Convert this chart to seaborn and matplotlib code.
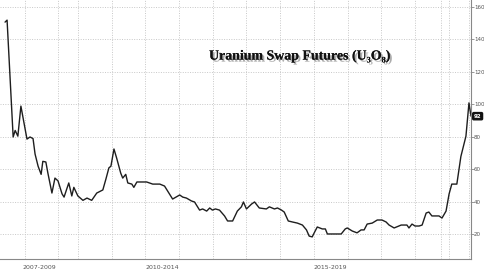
import numpy as np
import pandas as pd
import matplotlib
matplotlib.use("Agg")
import matplotlib.pyplot as plt
import matplotlib.patheffects as pe
from matplotlib import font_manager
import seaborn as sns

# ---- data ----
years = [2007.84, 2007.90, 2008.08, 2008.14, 2008.22, 2008.31, 2008.49, 2008.58, 2008.67,
         2008.73, 2008.82, 2008.91, 2008.96, 2009.05, 2009.11, 2009.23, 2009.32, 2009.41,
         2009.53, 2009.59, 2009.67, 2009.73, 2009.82, 2009.88, 2010.00, 2010.15, 2010.27,
         2010.41, 2010.56, 2010.74, 2010.83, 2010.92, 2010.98, 2011.07, 2011.15, 2011.27,
         2011.33, 2011.42, 2011.48, 2011.60, 2011.66, 2011.75, 2012.04, 2012.22, 2012.43,
         2012.57, 2012.81, 2013.02, 2013.11, 2013.22, 2013.37, 2013.46, 2013.61, 2013.70,
         2013.82, 2013.91, 2013.99, 2014.08, 2014.20, 2014.35, 2014.44, 2014.59, 2014.73,
         2014.85, 2014.91, 2015.00, 2015.15, 2015.24, 2015.38, 2015.59, 2015.68, 2015.83,
         2015.92, 2016.04, 2016.12, 2016.24, 2016.36, 2016.51, 2016.66, 2016.78, 2016.86,
         2016.95, 2017.01, 2017.10, 2017.25, 2017.34, 2017.40, 2017.81, 2017.93, 2017.99,
         2018.14, 2018.28, 2018.40, 2018.49, 2018.58, 2018.73, 2018.88, 2019.02, 2019.14,
         2019.23, 2019.38, 2019.59, 2019.76, 2019.82, 2019.91, 2020.00, 2020.12, 2020.21,
         2020.33, 2020.41, 2020.50, 2020.71, 2020.80, 2020.92, 2021.01, 2021.09, 2021.24,
         2021.36, 2021.51, 2021.60, 2021.66]
prices = [150.7, 151.9, 80.0, 84.0, 80.5, 99.0, 78.7, 80.0, 79.0,
          69.5, 62.0, 57.0, 65.0, 64.6, 57.8, 45.5, 54.7, 53.0,
          45.0, 43.0, 48.0, 51.7, 43.7, 49.0, 43.7, 41.0, 42.4,
          41.0, 45.5, 47.4, 54.0, 61.0, 62.0, 72.6, 67.0, 57.8,
          54.7, 57.0, 51.7, 51.0, 49.0, 52.3, 52.3, 51.0, 51.0,
          49.8, 41.8, 44.3, 43.0, 42.4, 40.6, 40.0, 35.0, 35.7,
          34.4, 36.3, 35.0, 35.7, 35.0, 31.4, 28.3, 28.3, 34.4,
          37.0, 40.0, 35.7, 38.7, 40.0, 36.3, 35.7, 37.0, 35.7,
          36.3, 35.0, 33.8, 28.3, 27.7, 27.0, 25.8, 22.8, 19.0,
          18.5, 21.0, 24.6, 23.4, 23.4, 20.3, 20.3, 23.4, 24.0,
          22.1, 21.0, 22.8, 22.8, 26.4, 27.0, 28.9, 28.9, 27.7,
          25.8, 24.0, 25.8, 25.8, 24.0, 26.4, 25.2, 25.2, 25.8,
          33.2, 33.8, 31.4, 31.4, 30.1, 34.4, 44.9, 51.0, 51.0,
          68.0, 80.5, 101.0, 92.8]
period_labels = ["2007-2009", "2010-2014", "2015-2019"]
period_edges = [2007.69, 2010.0, 2015.0, 2020.0]
ytick_values = [20, 40, 60, 80, 100, 120, 140, 160]
last_label = "92"
title = "Uranium Swap Futures (U\u2083O\u2088)"

df = pd.DataFrame({"year": years, "price": prices})

sns.set_style("white")

installed = {f.name for f in font_manager.fontManager.ttflist}
narrow = ["Liberation Sans Narrow", "DejaVu Sans"] if "Liberation Sans Narrow" in installed \
    else ["DejaVu Sans"]

W, H = 485, 272
fig = plt.figure(figsize=(W / 100, H / 100), dpi=100)
ax = fig.add_axes([0.0, 1 - 259 / H, 471 / W, 259 / H])

sns.lineplot(data=df, x="year", y="price", ax=ax, color="#1e1e1e", linewidth=1.0)

ax.set_xlim(2007.69, 2021.66)
ax.set_ylim(4.9, 164.3)
ax.set_xlabel("")
ax.set_ylabel("")

# spines
for s in ["left", "top"]:
    ax.spines[s].set_visible(False)
for s in ["right", "bottom"]:
    ax.spines[s].set_color("#888888")
    ax.spines[s].set_linewidth(0.8)

# y axis on right
ax.yaxis.tick_right()
ax.set_yticks(ytick_values)
ax.set_yticklabels([str(v) for v in ytick_values])
ax.tick_params(axis="y", which="major", direction="out", length=1.8, width=0.6,
               color="#888888", labelsize=4.0, labelcolor="#555555", pad=0.4)
for lab in ax.get_yticklabels():
    lab.set_family(narrow)
ax.yaxis.grid(True, linestyle=(0, (1, 1.5)), color="#c8c8c8", linewidth=0.7)

# vertical dotted gridlines
vgrid = [2008.43, 2009.41, 2010.0, 2011.0, 2012.0, 2013.0, 2014.0, 2015.0, 2016.0,
         2017.0, 2018.0, 2019.0, 2020.0, 2020.77, 2021.0, 2021.6]
for v in vgrid:
    ax.axvline(v, linestyle=(0, (1, 1.5)), color="#c8c8c8", linewidth=0.7, zorder=0)

# x ticks: separators (major) and small minor ticks
ax.set_xticks(period_edges[1:])
ax.set_xticklabels([])
ax.tick_params(axis="x", which="major", direction="out", length=14, width=0.6,
               color="#999999")
ax.set_xticks(np.arange(2007.75, 2021.66, 1 / 3), minor=True)
ax.tick_params(axis="x", which="minor", direction="inout", length=3, width=0.6,
               color="#888888")

# period labels
for lab, a, b in zip(period_labels, period_edges[:-1], period_edges[1:]):
    ax.text((a + b) / 2, -0.025, lab, transform=ax.get_xaxis_transform(),
            ha="center", va="top", fontsize=4.5, color="#555555")

# last value box
ax.text(1.006, 92.8, last_label, transform=ax.get_yaxis_transform(), ha="left",
        va="center", fontsize=4.0, color="white", fontweight="bold", family=narrow,
        bbox=dict(boxstyle="round,pad=0.2", fc="#111111", ec="#111111"))

# title with shadow
fig.text(300 / W, 1 - 56 / H, title, ha="center", va="center", fontsize=10,
         fontweight="bold", family=["Liberation Serif", "DejaVu Serif"], color="#111111",
         path_effects=[pe.withSimplePatchShadow(offset=(1.5, -1.5), shadow_rgbFace="#777777",
                                                alpha=0.6), pe.Normal()])

fig.savefig("out.png", dpi=100)
